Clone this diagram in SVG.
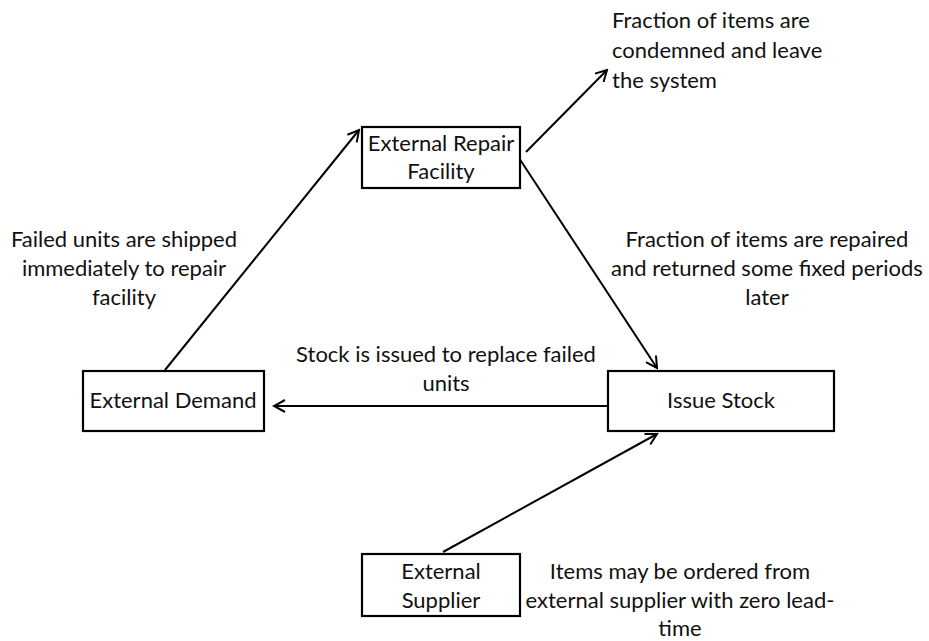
<svg xmlns="http://www.w3.org/2000/svg" width="929" height="641" viewBox="0 0 929 641">
<style>
text{font-family:Lato,"Open Sans","Liberation Sans",sans-serif;font-size:22px;fill:#111;}
.c{text-anchor:middle;}
.box{fill:#fff;stroke:#000;stroke-width:2.2;}
.edge{stroke:#000;stroke-width:2;fill:none;marker-end:url(#arr);}
</style>
<defs>
<marker id="arr" viewBox="0 0 14 14" refX="12" refY="7" markerWidth="14" markerHeight="14" markerUnits="userSpaceOnUse" orient="auto">
<path d="M1,1 L12,7 L1,13" fill="none" stroke="#000" stroke-width="2"/>
</marker>
</defs>
<rect width="929" height="641" fill="#fff"/>
<g id="connectors">
<line class="edge" x1="165" y1="370" x2="359" y2="130"/>
<line class="edge" x1="526" y1="152" x2="607" y2="70"/>
<line class="edge" x1="519" y1="158" x2="657" y2="368"/>
<line class="edge" x1="608" y1="406" x2="274" y2="406"/>
<line class="edge" x1="443" y1="552" x2="657" y2="434"/>
</g>
<g id="erf">
<rect class="box" x="362" y="127" width="158" height="61"/>
<text class="c" x="441" y="151">External Repair</text>
<text class="c" x="441" y="179">Facility</text>
</g>
<g id="demand">
<rect class="box" x="83" y="371" width="181" height="60"/>
<text class="c" x="173" y="408">External Demand</text>
</g>
<g id="stock">
<rect class="box" x="608" y="371" width="226" height="60"/>
<text class="c" x="721" y="408">Issue Stock</text>
</g>
<g id="supplier">
<rect class="box" x="362" y="554" width="158" height="62"/>
<text class="c" x="441" y="579">External</text>
<text class="c" x="441" y="608">Supplier</text>
</g>
<g id="labels">
<text x="612" y="28">Fraction of items are</text>
<text x="612" y="58">condemned and leave</text>
<text x="612" y="88">the system</text>
<text class="c" x="124" y="247">Failed units are shipped</text>
<text class="c" x="124" y="276">immediately to repair</text>
<text class="c" x="124" y="305">facility</text>
<text class="c" x="767" y="247">Fraction of items are repaired</text>
<text class="c" x="767" y="276">and returned some fixed periods</text>
<text class="c" x="767" y="305">later</text>
<text class="c" x="446" y="362">Stock is issued to replace failed</text>
<text class="c" x="446" y="391">units</text>
<text class="c" x="680" y="579">Items may be ordered from</text>
<text class="c" x="680" y="608">external supplier with zero lead-</text>
<text class="c" x="680" y="636">time</text>
</g>
</svg>
